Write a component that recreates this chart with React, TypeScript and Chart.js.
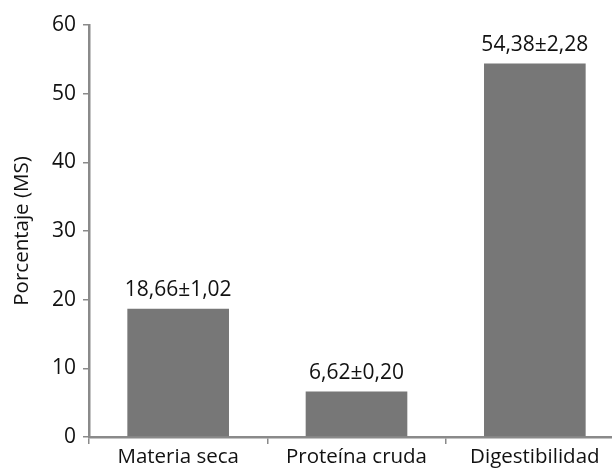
import React, { useEffect, useRef } from "react";
import { Chart, registerables } from "chart.js";

Chart.register(...registerables);

const categories = ["Materia seca", "Proteína cruda", "Digestibilidad"];
const values = [18.66, 6.62, 54.38];
const valueLabels = ["18,66±1,02", "6,62±0,20", "54,38±2,28"];
const yTicks = [0, 10, 20, 30, 40, 50, 60];
const yTitle = "Porcentaje (MS)";

const FONT = "'Open Sans', 'Noto Sans', sans-serif";
const TEXT = "#111111";

const labelPlugin = {
  id: "valueLabels",
  afterDatasetsDraw(chart: any) {
    const ctx = chart.ctx;
    const meta = chart.getDatasetMeta(0);
    ctx.save();
    ctx.font = `21px ${FONT}`;
    ctx.fillStyle = TEXT;
    ctx.textAlign = "center";
    ctx.textBaseline = "alphabetic";
    meta.data.forEach((bar: any, i: number) => {
      ctx.fillText(valueLabels[i], bar.x, bar.y - 13);
    });
    ctx.restore();
  },
};

export default function App() {
  const ref = useRef<HTMLCanvasElement>(null);
  useEffect(() => {
    document.body.style.margin = "0";
    document.body.style.overflow = "hidden";
    const chart = new Chart(ref.current!, {
      type: "bar",
      data: {
        labels: categories,
        datasets: [
          {
            data: values,
            backgroundColor: "#777777",
            borderWidth: 0,
            categoryPercentage: 1,
            barPercentage: 0.57,
          },
        ],
      },
      options: {
        responsive: false,
        animation: false,
        layout: { padding: { top: 25, left: 0, right: 0, bottom: 0 } },
        plugins: {
          legend: { display: false },
          tooltip: { enabled: false },
        },
        scales: {
          x: {
            grid: {
              drawOnChartArea: false,
              drawTicks: true,
              tickLength: 7,
              color: "#8a8a8a",
              lineWidth: 1.5,
              offset: true,
            },
            border: { color: "#8a8a8a", width: 2.5 },
            ticks: {
              color: TEXT,
              font: { family: FONT, size: 20.5 },
              padding: 1,
              maxRotation: 0,
            },
            afterFit(scale: any) {
              scale.height = 34;
            },
          },
          y: {
            min: 0,
            max: 60,
            afterBuildTicks(scale: any) {
              scale.ticks = yTicks.map((v) => ({ value: v }));
            },
            grid: {
              drawOnChartArea: false,
              drawTicks: true,
              tickLength: 6,
              color: "#8a8a8a",
              lineWidth: 1.5,
            },
            border: { color: "#8a8a8a", width: 2.5 },
            ticks: {
              color: TEXT,
              font: { family: FONT, size: 21 },
              padding: 7,
            },
            title: {
              display: true,
              text: yTitle,
              color: TEXT,
              font: { family: FONT, size: 20.5 },
              padding: { top: 10, bottom: 0 },
            },
            afterFit(scale: any) {
              scale.width = 89;
            },
          },
        },
      },
      plugins: [labelPlugin],
    });
    return () => chart.destroy();
  }, []);
  return (
    <div style={{ width: 612, height: 471, overflow: "hidden", position: "relative" }}>
      <canvas
        ref={ref}
        width={624}
        height={471}
        style={{ position: "absolute", left: 0, top: 0, width: 624, height: 471 }}
      />
    </div>
  );
}
